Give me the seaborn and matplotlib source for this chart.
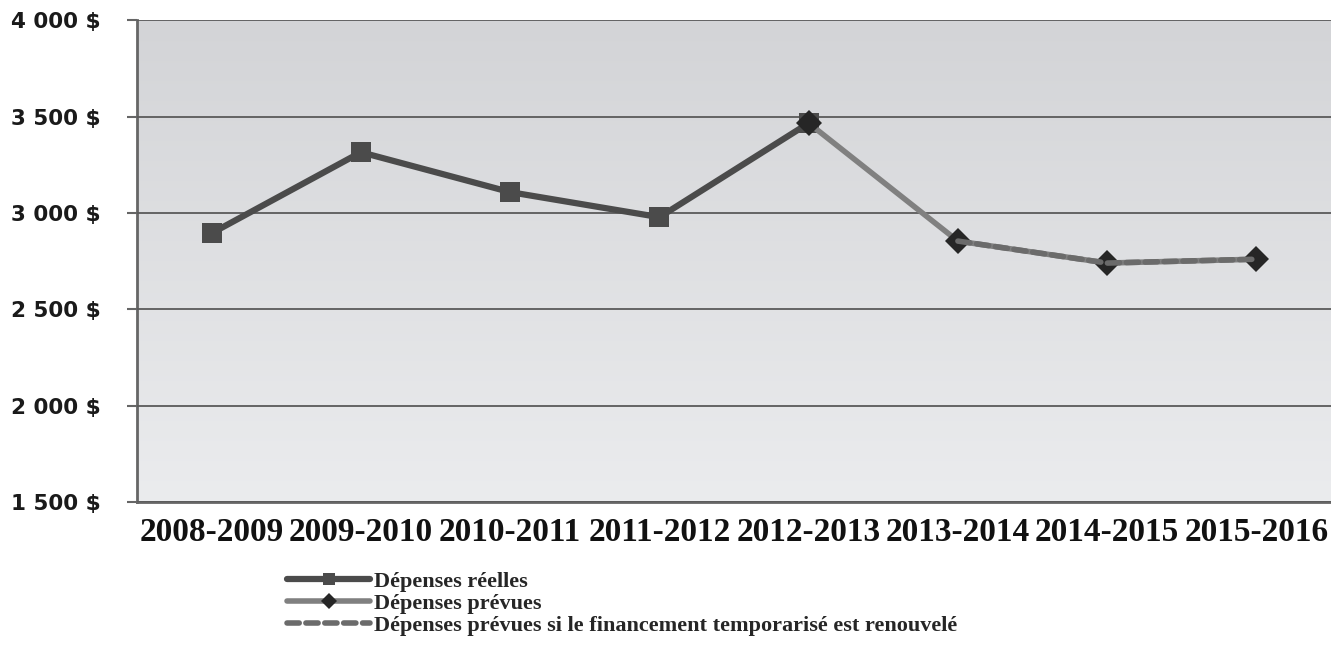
import numpy as np
import pandas as pd
import seaborn as sns
import matplotlib.pyplot as plt
from matplotlib.colors import LinearSegmentedColormap

# données
years = ["2008-2009", "2009-2010", "2010-2011", "2011-2012", "2012-2013",
         "2013-2014", "2014-2015", "2015-2016"]
reelles = [2895, 3315, 3108, 2978, 3466]
prevues = [3466, 2854, 2740, 2760]
renouvele = [2854, 2740, 2760]
yticks = [1500, 2000, 2500, 3000, 3500, 4000]
ytick_labels = ["1 500 $", "2 000 $", "2 500 $", "3 000 $", "3 500 $", "4 000 $"]

lab_reel = "Dépenses réelles"
lab_prev = "Dépenses prévues"
lab_renouv = "Dépenses prévues si le financement temporarisé est renouvelé"

pos = np.arange(len(years))
df_reel = pd.DataFrame({"x": pos[:len(reelles)], "y": reelles})
df_prev = pd.DataFrame({"x": pos[4:4 + len(prevues)], "y": prevues})
df_renouv = pd.DataFrame({"x": pos[5:5 + len(renouvele)], "y": renouvele})

sns.set_style("white")
plt.rcParams["font.family"] = ["DejaVu Sans"]

fig = plt.figure(figsize=(13.31, 6.52), dpi=100)
ax = fig.add_axes([0.103, 0.230, 0.897, 0.739])

# fond en dégradé
grad = np.linspace(0, 1, 256).reshape(-1, 1)
cmap = LinearSegmentedColormap.from_list("bg", ["#d3d4d7", "#ebecee"])
ax.imshow(grad, aspect="auto", cmap=cmap, extent=[0, 1, 0, 1],
          transform=ax.transAxes, zorder=0)

sns.lineplot(data=df_reel, x="x", y="y", ax=ax, color="#4b4b4b", lw=4.5,
             marker="s", markersize=14.5, markeredgewidth=0,
             markerfacecolor="#4b4b4b", label=lab_reel, zorder=3)
sns.lineplot(data=df_prev, x="x", y="y", ax=ax, color="#808080", lw=4,
             marker="D", markersize=13, markeredgewidth=0,
             markerfacecolor="#262626", label=lab_prev, zorder=4)
sns.lineplot(data=df_renouv, x="x", y="y", ax=ax, color="#6b6b6b", lw=4,
             ls=(0, (2.2, 1.2)), label=lab_renouv, zorder=5)
ax.lines[-1].set_dash_capstyle("round")

ax.set_xlim(-0.5, len(years) - 0.5)
ax.set_ylim(1500, 4000)
ax.set_yticks(yticks)
ax.set_yticklabels(ytick_labels, fontsize=15.5, fontweight="bold", color="#1a1a1a")
ax.set_xticks(pos)
ax.set_xticklabels(years, fontsize=24, fontweight="bold",
                   family="Liberation Serif", color="#111111")
ax.set_xticks(np.arange(-0.5, len(years), 1), minor=True)
ax.tick_params(axis="x", which="major", length=0, pad=11)
ax.tick_params(axis="x", which="minor", length=8, width=1.5, color="#666666",
               direction="out")
ax.tick_params(axis="y", length=7, width=1.5, color="#666666", direction="out",
               pad=19, left=True)
ax.set_xlabel("")
ax.set_ylabel("")

ax.grid(axis="y", color="#5a5a5a", lw=1.3, zorder=1)
ax.set_axisbelow(False)
for s in ["top", "right"]:
    ax.spines[s].set_visible(False)
for s in ["left", "bottom"]:
    ax.spines[s].set_color("#666666")
    ax.spines[s].set_linewidth(2)

handles, labels = ax.get_legend_handles_labels()
ax.get_legend().remove()
leg = fig.legend(handles, labels, loc="upper left", bbox_to_anchor=(0.216, 0.124),
                 frameon=False, handlelength=3.7, handletextpad=0.2,
                 labelspacing=0.07, borderpad=0, borderaxespad=0, markerscale=0.6,
                 prop={"family": "Liberation Serif", "weight": "bold", "size": 16})

fig.savefig("out.png", dpi=100)
